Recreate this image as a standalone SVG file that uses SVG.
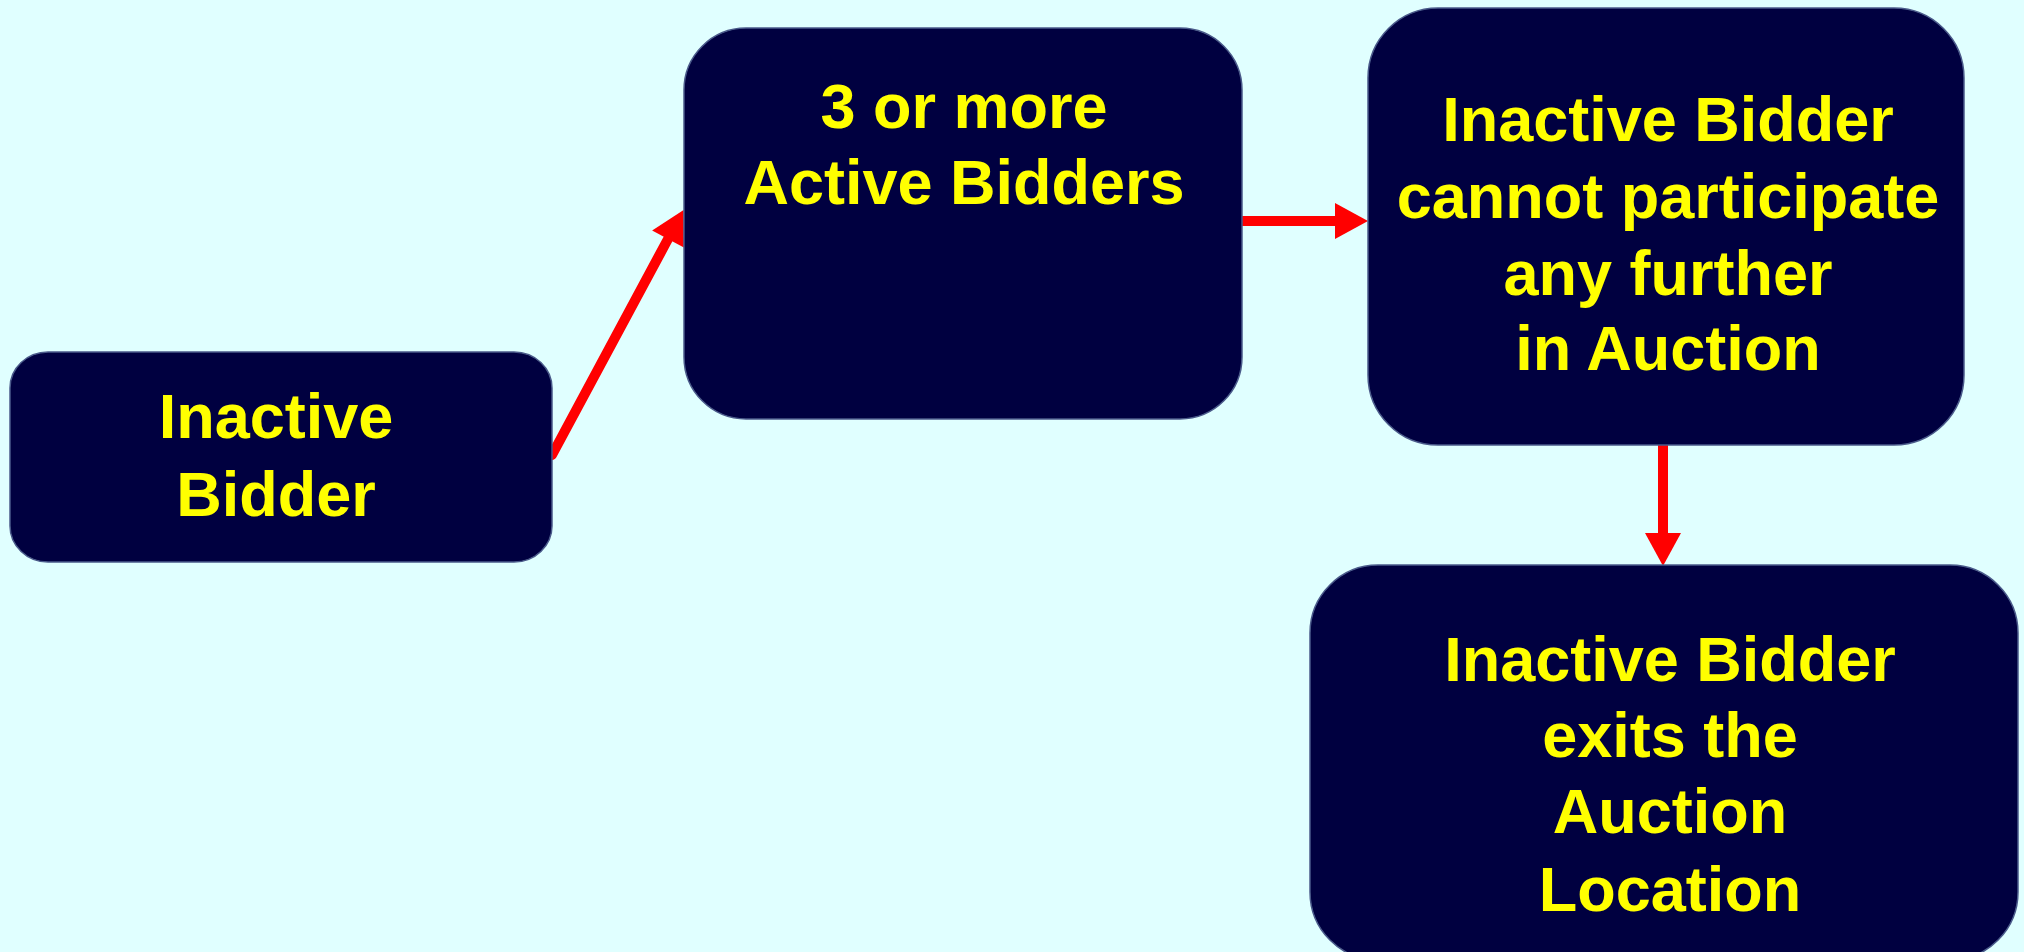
<svg xmlns="http://www.w3.org/2000/svg" width="2024" height="952" viewBox="0 0 2024 952">
<style>
.box{fill:#000040;stroke:#4a5a8a;stroke-width:1.5}
.lbl{fill:#FFFF00;font-family:"Liberation Sans",Arial,sans-serif;font-weight:bold;font-size:63px;text-anchor:middle}
.conn{stroke:#FF0000;stroke-width:10;stroke-linecap:round;fill:none}
</style>
<defs>
<marker id="ah" markerUnits="userSpaceOnUse" markerWidth="34" markerHeight="36" refX="0" refY="18" orient="auto" overflow="visible">
<path d="M0,0 L33,18 L0,36 Z" fill="#FF0000"/>
</marker>
</defs>
<rect x="0" y="0" width="2024" height="952" fill="#E0FFFF"/>
<g id="connectors">
<line class="conn" x1="552" y1="455" x2="668" y2="239" marker-end="url(#ah)"/>
<line class="conn" x1="1242" y1="221" x2="1335" y2="221" marker-end="url(#ah)"/>
<line class="conn" x1="1663" y1="441" x2="1663" y2="533" marker-end="url(#ah)"/>
</g>
<g id="node-inactive-bidder">
<rect class="box" x="10" y="352" width="542" height="210" rx="38" ry="36"/>
<text class="lbl" x="276" y="438">Inactive</text>
<text class="lbl" x="276" y="516">Bidder</text>
</g>
<g id="node-active-bidders">
<rect class="box" x="684" y="28" width="558" height="391" rx="62" ry="62"/>
<text class="lbl" x="964" y="128">3 or more</text>
<text class="lbl" x="964" y="204">Active Bidders</text>
</g>
<g id="node-cannot-participate">
<rect class="box" x="1368" y="8" width="596" height="437" rx="70" ry="70"/>
<text class="lbl" x="1668" y="141">Inactive Bidder</text>
<text class="lbl" x="1668" y="218">cannot participate</text>
<text class="lbl" x="1668" y="295">any further</text>
<text class="lbl" x="1668" y="370">in Auction</text>
</g>
<g id="node-exits">
<rect class="box" x="1310" y="565" width="708" height="395" rx="68" ry="68"/>
<text class="lbl" x="1670" y="681">Inactive Bidder</text>
<text class="lbl" x="1670" y="757">exits the</text>
<text class="lbl" x="1670" y="833">Auction</text>
<text class="lbl" x="1670" y="911">Location</text>
</g>
</svg>
